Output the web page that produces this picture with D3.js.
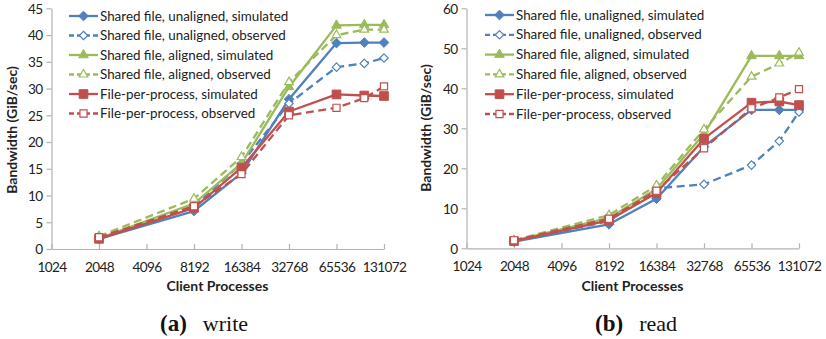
<!DOCTYPE html>
<html>
<head>
<meta charset="utf-8">
<script src="https://cdn.jsdelivr.net/npm/d3@7"></script>
<style>
  html, body { margin: 0; padding: 0; background: #fff; }
  svg { display: block; }
  .tick-label { font-family: Lato, "Open Sans", sans-serif; font-size: 13.6px; letter-spacing: -0.6px; fill: #222; }
  .axis-title { font-family: Lato, "Open Sans", sans-serif; font-size: 14px; font-weight: bold; fill: #222; }
  .legend-text { font-family: Lato, "Open Sans", sans-serif; font-size: 13.4px; fill: #222; }
  .caption { font-family: "Liberation Serif", "DejaVu Serif", serif; font-size: 22px; fill: #111; }
</style>
</head>
<body>
<svg id="chart" width="826" height="339"></svg>
<script>
// Client process counts at which bandwidth was measured
const processes = [2048, 8192, 16384, 32768, 65536, 98304, 131072];
// Tick labels along the (log2) x axis
const xTicks = [1024, 2048, 4096, 8192, 16384, 32768, 65536, 131072];
const writeYTicks = [0, 5, 10, 15, 20, 25, 30, 35, 40, 45];
const readYTicks = [0, 10, 20, 30, 40, 50, 60];

const seriesNames = [
  "Shared file, unaligned, simulated",
  "Shared file, unaligned, observed",
  "Shared file, aligned, simulated",
  "Shared file, aligned, observed",
  "File-per-process, simulated",
  "File-per-process, observed"
];

// Write bandwidth (GiB/sec)
const writeUnalignedSim = [1.9, 7.1, 14.2, 28.0, 38.5, 38.6, 38.6];
const writeUnalignedObs = [2.1, 8.0, 16.0, 27.2, 34.0, 34.7, 35.7];
const writeAlignedSim   = [2.0, 8.5, 16.0, 30.3, 41.8, 41.9, 41.9];
const writeAlignedObs   = [2.4, 9.4, 17.2, 31.2, 40.0, 41.0, 41.0];
const writeFppSim       = [1.9, 7.7, 15.2, 25.7, 28.9, 28.7, 28.6];
const writeFppObs       = [2.2, 8.0, 14.0, 25.0, 26.4, 28.2, 30.4];

// Read bandwidth (GiB/sec)
const readUnalignedSim = [1.7, 6.0, 12.4, 25.4, 34.6, 34.6, 34.6];
const readUnalignedObs = [1.8, 6.8, 15.0, 16.0, 20.8, 26.8, 34.1];
const readAlignedSim   = [1.9, 7.6, 14.8, 28.6, 48.1, 48.1, 48.1];
const readAlignedObs   = [2.0, 8.3, 15.7, 29.7, 42.9, 46.2, 48.9];
const readFppSim       = [1.8, 7.0, 13.8, 27.4, 36.4, 36.7, 35.8];
const readFppObs       = [2.0, 7.4, 14.4, 25.0, 35.0, 37.7, 39.8];

// Visual style per series (colour, dashed?, marker, filled?)
const styles = [
  { color: "#4f81bd", dashed: false, marker: "diamond",  filled: true },
  { color: "#4f81bd", dashed: true,  marker: "diamond",  filled: false },
  { color: "#9bbb59", dashed: false, marker: "triangle", filled: true },
  { color: "#9bbb59", dashed: true,  marker: "triangle", filled: false },
  { color: "#c0504d", dashed: false, marker: "square",   filled: true },
  { color: "#c0504d", dashed: true,  marker: "square",   filled: false }
];

const svg = d3.select("#chart");

function markerPath(kind, filled) {
  if (kind === "diamond") return d3.symbol(d3.symbolDiamond2, filled ? 60 : 45)();
  if (kind === "triangle") return d3.symbol(d3.symbolTriangle2, filled ? 66 : 54)();
  return d3.symbol(d3.symbolSquare2, filled ? 96 : 64)();
}

function drawMarker(g, style, x, y) {
  g.append("path")
    .attr("d", markerPath(style.marker, style.filled))
    .attr("transform", `translate(${x},${y})`)
    .attr("fill", style.filled ? style.color : "#fff")
    .attr("stroke", style.color)
    .attr("stroke-width", style.filled ? 1 : 1.2);
}

function drawPanel(cfg) {
  const g = svg.append("g");
  const x = d3.scaleLog().base(2).domain([1024, 131072]).range([cfg.left, cfg.right]);
  const y = d3.scaleLinear().domain([0, cfg.yMax]).range([cfg.bottom, cfg.top]);

  // Y axis: ticks pointing outward
  const yAxis = g.append("g").attr("transform", `translate(${cfg.left},0)`)
    .call(d3.axisLeft(y).tickValues(cfg.yTicks).tickSize(5).tickSizeOuter(0).tickPadding(4));
  // X axis: ticks pointing up into the plot
  const xAxis = g.append("g").attr("transform", `translate(0,${cfg.bottom})`)
    .call(d3.axisBottom(x).tickValues(xTicks).tickFormat(d3.format("d"))
      .tickSize(-5).tickSizeOuter(0).tickPadding(13));
  [yAxis, xAxis].forEach(a => {
    a.select(".domain").attr("stroke", "#b3b3b3").attr("stroke-width", 1.2);
    a.selectAll(".tick line").attr("stroke", "#b3b3b3").attr("stroke-width", 1.2);
    a.selectAll(".tick text").attr("class", "tick-label").attr("fill", null);
    a.attr("font-family", null).attr("font-size", null);
  });
  yAxis.selectAll(".tick text").attr("dy", "0.36em");
  xAxis.selectAll(".tick text").attr("dy", "0.75em");

  // Axis titles
  g.append("text").attr("class", "axis-title")
    .attr("x", cfg.xTitleX).attr("y", 291).attr("text-anchor", "middle")
    .text("Client Processes");
  g.append("text").attr("class", "axis-title")
    .attr("transform", `translate(${cfg.yTitleX},${cfg.yTitleY}) rotate(-90)`)
    .attr("text-anchor", "middle")
    .text("Bandwidth (GiB/sec)");

  // Series lines and markers
  const line = d3.line().x((d, i) => x(processes[i])).y(d => y(d));
  cfg.series.forEach((vals, si) => {
    const st = styles[si];
    g.append("path").datum(vals)
      .attr("d", line)
      .attr("fill", "none")
      .attr("stroke", st.color)
      .attr("stroke-width", 2.3)
      .attr("stroke-dasharray", st.dashed ? "8,4.5" : null)
      .attr("stroke-linejoin", "round");
    const mg = g.append("g");
    vals.forEach((v, i) => drawMarker(mg, st, x(processes[i]), y(v)));
  });

  // Legend
  const lg = g.append("g");
  seriesNames.forEach((name, i) => {
    const st = styles[i];
    const ly = cfg.legendY + i * cfg.legendStep;
    lg.append("line")
      .attr("x1", cfg.legendX).attr("x2", cfg.legendX + 29)
      .attr("y1", ly).attr("y2", ly)
      .attr("stroke", st.color).attr("stroke-width", 2.3)
      .attr("stroke-dasharray", st.dashed ? "5,3" : null);
    drawMarker(lg, st, cfg.legendX + 14.5, ly);
    lg.append("text").attr("class", "legend-text")
      .attr("x", cfg.legendX + 31).attr("y", ly).attr("dy", "0.35em")
      .text(name);
  });

  // Sub-caption: bold label followed by the operation name
  const cap = g.append("text").attr("class", "caption")
    .attr("x", cfg.capX).attr("y", 331).attr("text-anchor", "middle");
  cap.append("tspan").attr("font-weight", "bold").attr("font-size", "23px").text(cfg.capLabel);
  cap.append("tspan").attr("dx", 16).text(cfg.capText);
}

drawPanel({
  left: 51.5, right: 384, top: 8.3, bottom: 249, yMax: 45, yTicks: writeYTicks,
  series: [writeUnalignedSim, writeUnalignedObs, writeAlignedSim, writeAlignedObs, writeFppSim, writeFppObs],
  xTitleX: 217.5, yTitleX: 17, yTitleY: 130,
  legendX: 69, legendY: 16, legendStep: 19.5,
  capX: 204, capLabel: "(a)", capText: "write"
});

drawPanel({
  left: 466.5, right: 799, top: 8.3, bottom: 248.3, yMax: 60, yTicks: readYTicks,
  series: [readUnalignedSim, readUnalignedObs, readAlignedSim, readAlignedObs, readFppSim, readFppObs],
  xTitleX: 632.5, yTitleX: 431, yTitleY: 128,
  legendX: 485, legendY: 15, legendStep: 19.8,
  capX: 636, capLabel: "(b)", capText: "read"
});
</script>
</body>
</html>
